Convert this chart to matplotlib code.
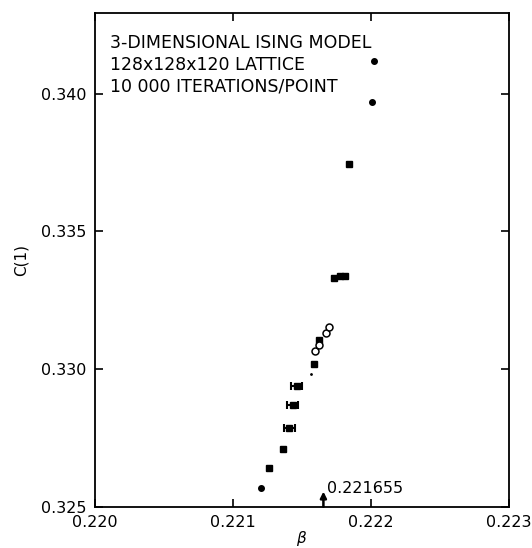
import numpy as np
import matplotlib
matplotlib.use('Agg')
import matplotlib.pyplot as plt

# data
dot_beta = [0.221204, 0.222007, 0.222024]
dot_c = [0.325688, 0.339709, 0.341209]

sq_beta = [0.221263, 0.221365, 0.221588, 0.221623, 0.221729, 0.221772, 0.221808, 0.221839]
sq_c = [0.326409, 0.327109, 0.330195, 0.331065, 0.333322, 0.333376, 0.333394, 0.337441]

err_beta = [0.221409, 0.221432, 0.221461]
err_c = [0.327877, 0.328685, 0.329373]
err_db = [0.00004, 0.00004, 0.00004]

open_beta = [0.221594, 0.221623, 0.221671, 0.221695]
open_c = [0.330652, 0.330858, 0.331304, 0.331547]

speck_beta = [0.221564]
speck_c = [0.329833]

beta_c = 0.221655
x_ticks = [0.220, 0.221, 0.222, 0.223]
y_ticks = [0.325, 0.330, 0.335, 0.340]
info_lines = ['3-DIMENSIONAL ISING MODEL', '128x128x120 LATTICE', '10 000 ITERATIONS/POINT']

plt.rcParams['font.family'] = ['DejaVu Sans']

fig = plt.figure(figsize=(5.32, 5.48), dpi=100)
ax = fig.add_axes([0.1786, 0.0754, 0.7782, 0.9009])

ax.plot(dot_beta, dot_c, 'o', color='black', ms=4, ls='none')
ax.plot(sq_beta, sq_c, 's', color='black', ms=4.5, ls='none')
ax.errorbar(err_beta, err_c, xerr=err_db, fmt='s', color='black', ms=4.5,
            capsize=3, elinewidth=1.5, capthick=1.5)
ax.plot(open_beta, open_c, 'o', mfc='white', mec='black', mew=1.1, ms=5, ls='none')
ax.plot(speck_beta, speck_c, '.', color='black', ms=2, ls='none')

ax.annotate('', xy=(beta_c, 0.32555), xytext=(beta_c, 0.325),
            arrowprops=dict(arrowstyle='-|>', color='black', lw=1.8, mutation_scale=9,
                            shrinkA=0, shrinkB=0))
ax.text(beta_c + 0.000028, 0.32567, '0.221655', fontsize=11.5, ha='left', va='center')

ys = [0.939, 0.895, 0.852]
for line, y in zip(info_lines, ys):
    ax.text(0.036, y, line, transform=ax.transAxes, fontsize=12.5, ha='left', va='center')

ax.set_xlim(0.220, 0.223)
ax.set_ylim(0.325, 0.34294)
ax.set_xticks(x_ticks)
ax.set_yticks(y_ticks)
ax.set_xticklabels(['%.3f' % t for t in x_ticks])
ax.set_yticklabels(['%.3f' % t for t in y_ticks])
ax.tick_params(direction='in', length=6, width=1.2, top=True, right=True,
               labelsize=11.5, pad=6)
for s in ax.spines.values():
    s.set_linewidth(1.3)

ax.set_xlabel(r'$\beta$', fontsize=11, labelpad=-1)
ax.set_ylabel('C(1)', fontsize=11, labelpad=9)

fig.savefig('out.png', dpi=100)
